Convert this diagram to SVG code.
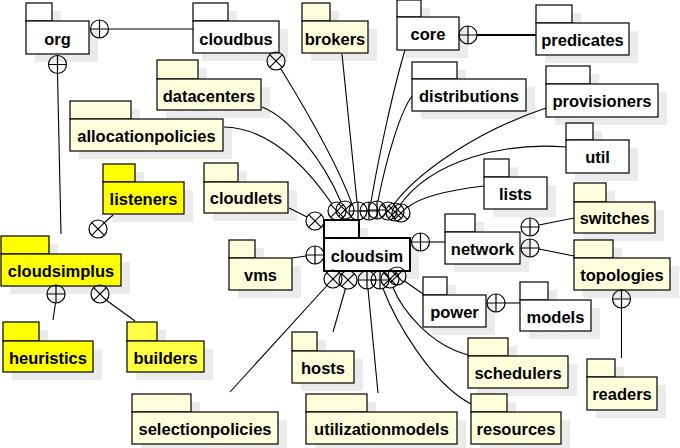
<svg xmlns="http://www.w3.org/2000/svg" width="680" height="448" viewBox="0 0 680 448">
<style>
.pk rect{stroke:#000;stroke-width:1.2}
.pk rect.sh{stroke:none;fill:#ebebeb}
.w .f{fill:#fff}
.y .f{fill:#ffffdc}
.Y .f{fill:#ffff00}
.Y2 .f{fill:#ffff44}
.pk text{font-family:"Liberation Sans",Arial,sans-serif;font-weight:bold;font-size:16.5px;text-anchor:middle;fill:#000}
.thick rect.f{stroke-width:2}
#connectors path,#connectors line{fill:none;stroke:#000;stroke-width:1.1}
.sym circle,.sym path{fill:none;stroke:#000;stroke-width:1.2}
</style>
<defs>
<g id="op" class="sym"><circle r="9"/><path d="M-9,0H9M0,-9V9"/></g>
<g id="ox" class="sym"><circle r="9"/><path d="M-6.4,-6.4L6.4,6.4M-6.4,6.4L6.4,-6.4"/></g>
</defs>
<rect width="680" height="448" fill="#fff"/>
<g id="nodes">
<g id="org" class="pk w"><rect class="sh" x="35" y="11" width="26" height="18"/><rect class="sh" x="35" y="29" width="63" height="33"/><rect class="f" x="26" y="3" width="26" height="18"/><rect class="f" x="26" y="21" width="63" height="33"/><text x="57.5" y="45">org</text></g>
<g id="cloudbus" class="pk w"><rect class="sh" x="202" y="11" width="35" height="18"/><rect class="sh" x="202" y="29" width="86" height="32"/><rect class="f" x="193" y="3" width="35" height="18"/><rect class="f" x="193" y="21" width="86" height="32"/><text x="236" y="45">cloudbus</text></g>
<g id="brokers" class="pk y"><rect class="sh" x="311" y="11" width="28" height="18"/><rect class="sh" x="311" y="29" width="66" height="32"/><rect class="f" x="302" y="3" width="28" height="18"/><rect class="f" x="302" y="21" width="66" height="32"/><text x="335" y="45">brokers</text></g>
<g id="core" class="pk w"><rect class="sh" x="406" y="8" width="24" height="17"/><rect class="sh" x="406" y="25" width="62" height="33"/><rect class="f" x="397" y="0" width="24" height="17"/><rect class="f" x="397" y="17" width="62" height="33"/><text x="428" y="40">core</text></g>
<g id="predicates" class="pk w"><rect class="sh" x="545" y="13" width="36" height="18"/><rect class="sh" x="545" y="31" width="93" height="32"/><rect class="f" x="536" y="5" width="36" height="18"/><rect class="f" x="536" y="23" width="93" height="32"/><text x="582.5" y="46">predicates</text></g>
<g id="datacenters" class="pk y"><rect class="sh" x="166" y="68" width="41" height="19"/><rect class="sh" x="166" y="87" width="104" height="31"/><rect class="f" x="157" y="60" width="41" height="19"/><rect class="f" x="157" y="79" width="104" height="31"/><text x="209" y="102">datacenters</text></g>
<g id="distributions" class="pk w"><rect class="sh" x="421" y="70" width="45" height="17"/><rect class="sh" x="421" y="87" width="114" height="32"/><rect class="f" x="412" y="62" width="45" height="17"/><rect class="f" x="412" y="79" width="114" height="32"/><text x="469" y="102">distributions</text></g>
<g id="provisioners" class="pk w"><rect class="sh" x="555" y="74" width="44" height="18"/><rect class="sh" x="555" y="92" width="112" height="33"/><rect class="f" x="546" y="66" width="44" height="18"/><rect class="f" x="546" y="84" width="112" height="33"/><text x="602" y="107">provisioners</text></g>
<g id="allocationpolicies" class="pk y"><rect class="sh" x="79" y="109" width="61" height="18"/><rect class="sh" x="79" y="127" width="153" height="32"/><rect class="f" x="70" y="101" width="61" height="18"/><rect class="f" x="70" y="119" width="153" height="32"/><text x="146.5" y="142">allocationpolicies</text></g>
<g id="util" class="pk w"><rect class="sh" x="575" y="131" width="27" height="17"/><rect class="sh" x="575" y="148" width="63" height="33"/><rect class="f" x="566" y="123" width="27" height="17"/><rect class="f" x="566" y="140" width="63" height="33"/><text x="597.5" y="163">util</text></g>
<g id="lists" class="pk w"><rect class="sh" x="493" y="167" width="25" height="18"/><rect class="sh" x="493" y="185" width="63" height="32"/><rect class="f" x="484" y="159" width="25" height="18"/><rect class="f" x="484" y="177" width="63" height="32"/><text x="515.5" y="200">lists</text></g>
<g id="listeners" class="pk Y"><rect class="sh" x="112" y="172" width="32" height="18"/><rect class="sh" x="112" y="190" width="81" height="32"/><rect class="f" x="103" y="164" width="32" height="18"/><rect class="f" x="103" y="182" width="81" height="32"/><text x="143.5" y="205">listeners</text></g>
<g id="cloudlets" class="pk y"><rect class="sh" x="213" y="171" width="34" height="19"/><rect class="sh" x="213" y="190" width="84" height="31"/><rect class="f" x="204" y="163" width="34" height="19"/><rect class="f" x="204" y="182" width="84" height="31"/><text x="246" y="204">cloudlets</text></g>
<g id="switches" class="pk y"><rect class="sh" x="583" y="191" width="32" height="19"/><rect class="sh" x="583" y="210" width="81" height="31"/><rect class="f" x="574" y="183" width="32" height="19"/><rect class="f" x="574" y="202" width="81" height="31"/><text x="614.5" y="224">switches</text></g>
<g id="cloudsim" class="pk w thick"><rect class="sh" x="333" y="228" width="35" height="18"/><rect class="sh" x="333" y="246" width="86" height="33"/><rect class="f" x="324" y="220" width="35" height="18"/><rect class="f" x="324" y="238" width="86" height="33"/><text x="367" y="262">cloudsim</text></g>
<g id="network" class="pk w"><rect class="sh" x="454" y="222" width="30" height="18"/><rect class="sh" x="454" y="240" width="75" height="32"/><rect class="f" x="445" y="214" width="30" height="18"/><rect class="f" x="445" y="232" width="75" height="32"/><text x="482.5" y="255">network</text></g>
<g id="cloudsimplus" class="pk Y"><rect class="sh" x="10" y="244" width="48" height="18"/><rect class="sh" x="10" y="262" width="120" height="32"/><rect class="f" x="1" y="236" width="48" height="18"/><rect class="f" x="1" y="254" width="120" height="32"/><text x="61" y="277">cloudsimplus</text></g>
<g id="vms" class="pk y"><rect class="sh" x="238" y="248" width="26" height="18"/><rect class="sh" x="238" y="266" width="63" height="32"/><rect class="f" x="229" y="240" width="26" height="18"/><rect class="f" x="229" y="258" width="63" height="32"/><text x="260.5" y="281">vms</text></g>
<g id="topologies" class="pk y"><rect class="sh" x="583" y="248" width="39" height="18"/><rect class="sh" x="583" y="266" width="96" height="32"/><rect class="f" x="574" y="240" width="39" height="18"/><rect class="f" x="574" y="258" width="96" height="32"/><text x="622" y="281">topologies</text></g>
<g id="power" class="pk w"><rect class="sh" x="432" y="285" width="24" height="18"/><rect class="sh" x="432" y="303" width="63" height="32"/><rect class="f" x="423" y="277" width="24" height="18"/><rect class="f" x="423" y="295" width="63" height="32"/><text x="454.5" y="318">power</text></g>
<g id="models" class="pk w"><rect class="sh" x="529" y="290" width="28" height="18"/><rect class="sh" x="529" y="308" width="71" height="31"/><rect class="f" x="520" y="282" width="28" height="18"/><rect class="f" x="520" y="300" width="71" height="31"/><text x="555.5" y="323">models</text></g>
<g id="heuristics" class="pk Y"><rect class="sh" x="12" y="330" width="36" height="19"/><rect class="sh" x="12" y="349" width="90" height="31"/><rect class="f" x="3" y="322" width="36" height="19"/><rect class="f" x="3" y="341" width="90" height="31"/><text x="48" y="364">heuristics</text></g>
<g id="builders" class="pk Y2"><rect class="sh" x="136" y="330" width="30" height="19"/><rect class="sh" x="136" y="349" width="77" height="31"/><rect class="f" x="127" y="322" width="30" height="19"/><rect class="f" x="127" y="341" width="77" height="31"/><text x="165.5" y="364">builders</text></g>
<g id="hosts" class="pk y"><rect class="sh" x="301" y="340" width="25" height="19"/><rect class="sh" x="301" y="359" width="62" height="32"/><rect class="f" x="292" y="332" width="25" height="19"/><rect class="f" x="292" y="351" width="62" height="32"/><text x="323" y="374">hosts</text></g>
<g id="schedulers" class="pk y"><rect class="sh" x="477" y="346" width="40" height="18"/><rect class="sh" x="477" y="364" width="100" height="32"/><rect class="f" x="468" y="338" width="40" height="18"/><rect class="f" x="468" y="356" width="100" height="32"/><text x="518" y="379">schedulers</text></g>
<g id="readers" class="pk y"><rect class="sh" x="596" y="367" width="28" height="18"/><rect class="sh" x="596" y="385" width="70" height="33"/><rect class="f" x="587" y="359" width="28" height="18"/><rect class="f" x="587" y="377" width="70" height="33"/><text x="622" y="400">readers</text></g>
<g id="selectionpolicies" class="pk y"><rect class="sh" x="141" y="402" width="59" height="18"/><rect class="sh" x="141" y="420" width="146" height="32"/><rect class="f" x="132" y="394" width="59" height="18"/><rect class="f" x="132" y="412" width="146" height="32"/><text x="205" y="435">selectionpolicies</text></g>
<g id="utilizationmodels" class="pk y"><rect class="sh" x="315" y="402" width="61" height="18"/><rect class="sh" x="315" y="420" width="151" height="32"/><rect class="f" x="306" y="394" width="61" height="18"/><rect class="f" x="306" y="412" width="151" height="32"/><text x="381.5" y="435">utilizationmodels</text></g>
<g id="resources" class="pk y"><rect class="sh" x="480" y="402" width="36" height="18"/><rect class="sh" x="480" y="420" width="90" height="32"/><rect class="f" x="471" y="394" width="36" height="18"/><rect class="f" x="471" y="412" width="90" height="32"/><text x="516" y="435">resources</text></g>
</g>
<g id="connectors">
<line x1="108.5" y1="29" x2="193" y2="29"/>
<use href="#op" x="99.5" y="29"/>
<line x1="57.5" y1="73.5" x2="61" y2="234"/>
<use href="#op" x="57.5" y="64.5"/>
<path d="M281,69 C300,100 336,160 352,204"/>
<use href="#ox" x="276" y="61"/>
<line x1="477" y1="35" x2="536" y2="35" style="stroke-width:2"/>
<use href="#op" x="468" y="35"/>
<path d="M224,127 C268,128 305,165 332,204"/>
<use href="#ox" x="337" y="211"/>
<path d="M262,107 C290,118 323,160 341,202"/>
<use href="#ox" x="345" y="210"/>
<path d="M342,54 L357,202"/>
<use href="#op" x="358" y="211"/>
<path d="M405,50 C393,90 378,160 371,202"/>
<use href="#op" x="369" y="211"/>
<path d="M412,96 C400,112 386,160 378,201"/>
<use href="#op" x="377" y="210"/>
<path d="M546,108 C480,130 420,170 394,204"/>
<use href="#ox" x="388" y="211"/>
<path d="M566,147 C505,142 432,160 400,205"/>
<use href="#ox" x="395" y="212"/>
<path d="M484,186 C450,190 422,196 408,207"/>
<use href="#ox" x="401" y="213"/>
<line x1="307" y1="217" x2="289" y2="208"/>
<use href="#ox" x="315" y="221"/>
<line x1="306" y1="256" x2="292" y2="258"/>
<use href="#op" x="315" y="255"/>
<line x1="104" y1="223" x2="113" y2="215"/>
<use href="#ox" x="98" y="229"/>
<line x1="429.5" y1="242" x2="445" y2="242"/>
<use href="#op" x="420.5" y="242"/>
<line x1="539" y1="225" x2="574" y2="218"/>
<use href="#op" x="530" y="227"/>
<line x1="539" y1="249" x2="574" y2="256"/>
<use href="#op" x="530" y="248"/>
<line x1="505" y1="303" x2="520" y2="303"/>
<use href="#op" x="496" y="303"/>
<line x1="621.5" y1="308" x2="621.5" y2="358"/>
<use href="#op" x="621.5" y="299"/>
<line x1="55.5" y1="303" x2="53" y2="320"/>
<use href="#op" x="56" y="294"/>
<line x1="106" y1="300" x2="135" y2="321"/>
<use href="#ox" x="100" y="294"/>
<line x1="327" y1="285.5" x2="230" y2="392"/>
<use href="#ox" x="333" y="279"/>
<line x1="345.5" y1="288.5" x2="333" y2="332"/>
<use href="#ox" x="348" y="280"/>
<line x1="368" y1="289" x2="378" y2="393"/>
<use href="#op" x="367" y="280"/>
<path d="M383,288.5 C395,320 430,382 471,404"/>
<use href="#op" x="380" y="280"/>
<path d="M393,287.5 C402,310 430,345 468,355"/>
<use href="#ox" x="390" y="279"/>
<line x1="404.5" y1="281" x2="423" y2="294"/>
<use href="#ox" x="397" y="276"/>
</g>
</svg>
